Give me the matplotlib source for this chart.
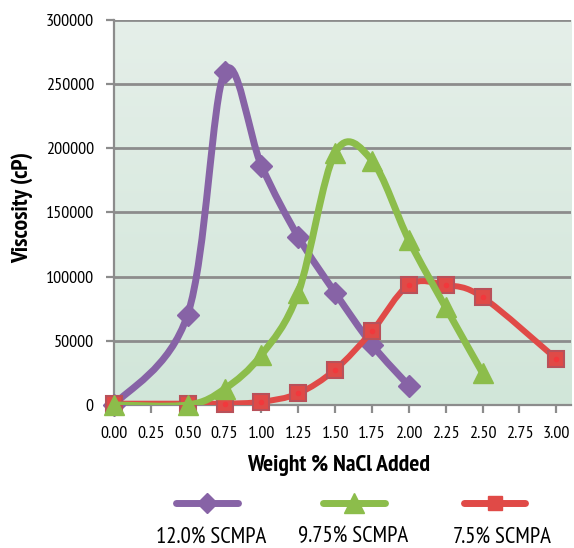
import numpy as np
import matplotlib
matplotlib.use('Agg')
from matplotlib import pyplot as plt
from matplotlib.path import Path
from matplotlib.patches import PathPatch
from matplotlib.lines import Line2D

plt.rcParams['font.family'] = ['PT Sans Narrow', 'DejaVu Sans']

# data
x_ticks = [0.00, 0.25, 0.50, 0.75, 1.00, 1.25, 1.50, 1.75, 2.00, 2.25, 2.50, 2.75, 3.00]

x_120 = [0.00, 0.50, 0.75, 1.00, 1.25, 1.50, 1.75, 2.00]
y_120 = [0, 70500, 259500, 186500, 131000, 87500, 47000, 15000]

x_975 = [0.00, 0.50, 0.75, 1.00, 1.25, 1.50, 1.75, 2.00, 2.25, 2.50]
y_975 = [0, 0, 12500, 39000, 87500, 196500, 190500, 128500, 76000, 25000]

x_75 = [0.00, 0.50, 0.75, 1.00, 1.25, 1.50, 1.75, 2.00, 2.25, 2.50, 3.00]
y_75 = [1000, 1000, 1000, 2500, 9000, 27500, 57500, 93500, 93500, 84000, 36000]

labels = ['12.0% SCMPA', '9.75% SCMPA', '7.5% SCMPA']

purple = '#8763a6'
green = '#8cbd4b'
red = '#e04a47'


def smooth_path(xs, ys):
	# excel style smoothed line: cubic bezier with catmull-rom control points
	pts = list(zip(xs, ys))
	verts = [pts[0]]
	codes = [Path.MOVETO]
	n = len(pts)
	for i in range(n - 1):
		p0 = pts[i - 1] if i > 0 else pts[i]
		p1 = pts[i]
		p2 = pts[i + 1]
		p3 = pts[i + 2] if i + 2 < n else pts[i + 1]
		c1 = (p1[0] + (p2[0] - p0[0]) / 6.0, p1[1] + (p2[1] - p0[1]) / 6.0)
		c2 = (p2[0] - (p3[0] - p1[0]) / 6.0, p2[1] - (p3[1] - p1[1]) / 6.0)
		verts += [c1, c2, p2]
		codes += [Path.CURVE4] * 3
	return Path(verts, codes)


fig = plt.figure(figsize=(5.74, 5.48), dpi=100)
ax = fig.add_axes([0.1986, 0.261, 0.7962, 0.7025])

ax.set_xlim(0, 3.1)
ax.set_ylim(0, 300000)

# gradient background
grad = np.linspace(0, 1, 256).reshape(-1, 1)
cmap = matplotlib.colors.LinearSegmentedColormap.from_list('bg', ['#d1e6d9', '#e5efe9'])
ax.imshow(grad, extent=[0, 3.1, 0, 300000], origin='lower', aspect='auto', cmap=cmap, zorder=0)

ax.set_yticks(np.arange(0, 300001, 50000))
ax.set_xticks(x_ticks)
ax.set_xticklabels(['%.2f' % v for v in x_ticks])
ax.grid(axis='y', color='#8c8c8c', linewidth=2, zorder=1)
ax.set_axisbelow(True)

for s in ['top', 'right']:
	ax.spines[s].set_visible(False)
for s in ['left', 'bottom']:
	ax.spines[s].set_color('#8c8c8c')
	ax.spines[s].set_linewidth(1.6)
ax.tick_params(axis='both', colors='#8c8c8c', width=1.6, length=5.5, labelcolor='black', labelsize=13)
ax.tick_params(axis='x', pad=9.5)
ax.tick_params(axis='y', pad=9)

series = [
	(x_120, y_120, purple, 'D', 11.5, purple, 1.0, 5.0, 3),
	(x_75, y_75, red, 's', 11, '#b9515a', 1.5, 4.3, 4),
	(x_975, y_975, green, '^', 15, green, 1.0, 5.0, 5),
]
for xs, ys, col, mk, ms, ec, mew, lw, z in series:
	patch = PathPatch(smooth_path(xs, ys), facecolor='none', edgecolor=col, lw=lw,
		capstyle='round', joinstyle='round', zorder=z)
	ax.add_patch(patch)
	ax.plot(xs, ys, linestyle='none', marker=mk, ms=ms, color=col, mec=ec, mew=mew,
		zorder=z + 0.5, clip_on=False)
	if mk == 's':
		ax.plot(xs, ys, linestyle='none', marker='o', ms=4, color='#f2383c', mew=0,
			zorder=z + 0.6, clip_on=False)

ax.set_ylabel('Viscosity (cP)', fontsize=17, fontweight='bold')
ax.set_xlabel('Weight % NaCl Added', fontsize=17, fontweight='bold')
ax.yaxis.set_label_coords(-0.176, 0.512)
ax.xaxis.set_label_coords(0.492, -0.13)

# legend drawn under the axes, line above text
leg = [(purple, 'D', 10, purple), (green, '^', 14, green), (red, 's', 10, red)]
line_centers = [0.3606, 0.6159, 0.8615]
text_centers = [0.3676, 0.615, 0.8746]
for (col, mk, ms, ec), cx, tx, lab in zip(leg, line_centers, text_centers, labels):
	fig.add_artist(Line2D([cx - 0.054, cx + 0.054], [0.082, 0.082], color=col, lw=5.0,
		solid_capstyle='round', transform=fig.transFigure))
	fig.add_artist(Line2D([cx], [0.082], marker=mk, ms=ms, color=col, mec=ec,
		transform=fig.transFigure))
	fig.text(tx, 0.02, lab, ha='center', va='center', fontsize=16.5)

fig.savefig('out.png', dpi=100)
